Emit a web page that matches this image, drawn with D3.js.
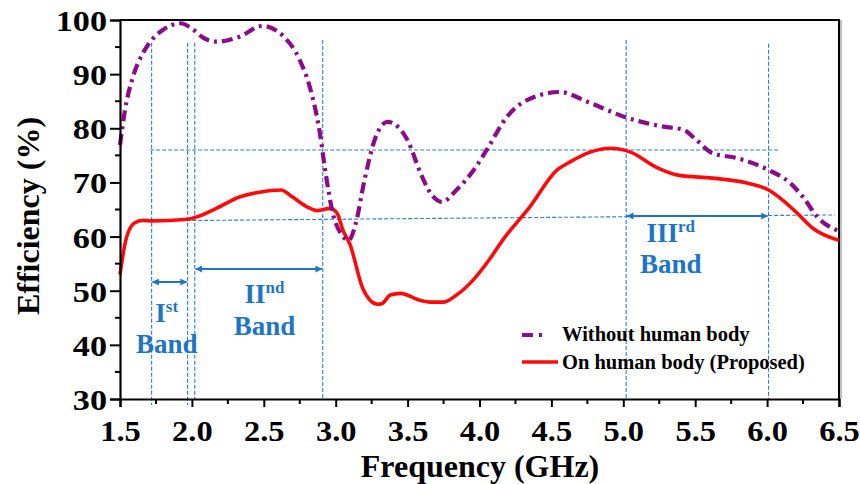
<!DOCTYPE html>
<html>
<head>
<meta charset="utf-8">
<script src="https://cdn.jsdelivr.net/npm/d3@7"></script>
<style>
  html, body { margin: 0; padding: 0; background: #fff; }
  svg { display: block; }
  svg text { font-family: "Liberation Serif", "Tinos", "Times New Roman", "Nimbus Roman", "DejaVu Serif", serif !important; font-weight: bold; }
</style>
</head>
<body>
<svg id="chart" width="860" height="484"></svg>
<script>
// ---- Data ----
const freqWithout = [1.5, 1.535, 1.59, 1.66, 1.72, 1.80, 1.92, 2.01, 2.08, 2.17, 2.33, 2.49, 2.64, 2.75, 2.82, 2.89, 2.93, 2.98, 3.04, 3.09, 3.14, 3.2, 3.27, 3.36, 3.50, 3.59, 3.66, 3.74, 3.84, 3.96, 4.05, 4.19, 4.33, 4.56, 4.75, 5.03, 5.28, 5.42, 5.51, 5.62, 5.79, 6.01, 6.16, 6.25, 6.35, 6.5];
const effWithout  = [76.9, 83.4, 89.5, 93.9, 96.3, 98.2, 99.4, 98.2, 96.7, 96.0, 96.9, 98.9, 96.9, 92.6, 87.6, 79.1, 71.7, 64.3, 60.4, 59.3, 62.5, 70.4, 77.8, 81.2, 77.8, 71.7, 68.0, 66.4, 68.6, 72.3, 76.0, 82.1, 85.2, 86.7, 84.9, 81.9, 80.3, 79.7, 77.8, 75.4, 74.5, 72.3, 69.9, 67.3, 63.6, 61.0];

const freqOn = [1.5, 1.54, 1.60, 1.66, 1.72, 1.97, 2.03, 2.17, 2.33, 2.47, 2.62, 2.70, 2.80, 2.87, 2.96, 3.01, 3.05, 3.10, 3.19, 3.29, 3.32, 3.38, 3.45, 3.59, 3.66, 3.75, 3.84, 3.96, 4.07, 4.16, 4.35, 4.54, 4.63, 4.77, 4.91, 5.05, 5.23, 5.39, 5.62, 5.86, 6.01, 6.11, 6.21, 6.32, 6.5];
const effOn  = [53.0, 59.3, 62.5, 63.0, 62.9, 63.2, 63.6, 65.2, 67.3, 68.2, 68.6, 67.3, 65.5, 64.8, 65.2, 64.3, 61.2, 58.5, 50.3, 47.5, 47.6, 49.2, 49.5, 48.2, 47.9, 47.9, 49.2, 52.1, 55.8, 59.3, 65.5, 72.3, 73.8, 75.6, 76.3, 75.6, 72.8, 71.3, 70.8, 69.9, 68.6, 66.7, 64.3, 61.5, 59.3];

const seriesNames = ["Without human body", "On human body (Proposed)"];
const xTicks = [1.5, 2.0, 2.5, 3.0, 3.5, 4.0, 4.5, 5.0, 5.5, 6.0, 6.5];
const yTicks = [30, 40, 50, 60, 70, 80, 90, 100];

// Reference (band) lines
const bandEdges = [1.72, 1.97, 2.02, 2.91, 5.02, 6.01];
const bandEdgeTops = [95.8, 95.8, 95.8, 96.3, 96.3, 95.6];
const bandEdgeBottoms = [28.9, 28.9, 30, 30, 30, 30];
const hLine1 = {x1: 1.71, y1: 76, x2: 6.09, y2: 76};
const hLine2 = {x1: 1.71, y1: 62.9, x2: 6.47, y2: 64};
const bandArrows = [
  {x1: 1.72, x2: 1.97, y: 51.6},
  {x1: 2.02, x2: 2.91, y: 54.0},
  {x1: 5.02, x2: 6.01, y: 63.8}
];
const bandLabels = [
  {roman: "I", sup: "st", cx: 1.825, yTop: 44.2, yBot: 38.5},
  {roman: "II", sup: "nd", cx: 2.505, yTop: 47.7, yBot: 41.8},
  {roman: "III", sup: "rd", cx: 5.33, yTop: 59.0, yBot: 53.3}
];

// ---- Layout ----
const svg = d3.select("#chart");
const L = 120, R = 839, T = 20, B = 399;
const x = d3.scaleLinear().domain([1.5, 6.5]).range([L, R]);
const y = d3.scaleLinear().domain([30, 100]).range([B, T]);

const blue = "#2a7bd4";
const labelBlue = "#1e74c6";
const purple = "#8a0c8a";
const red = "#ff0a0a";
const serif = "'Liberation Serif', Tinos, 'Times New Roman', 'Nimbus Roman', 'DejaVu Serif', serif";

// arrow markers
const defs = svg.append("defs");
defs.append("marker")
  .attr("id", "arr")
  .attr("viewBox", "0 0 10 10")
  .attr("refX", 9).attr("refY", 5)
  .attr("markerWidth", 4).attr("markerHeight", 3.5)
  .attr("markerUnits", "strokeWidth")
  .attr("orient", "auto-start-reverse")
  .append("path").attr("d", "M0,0 L10,5 L0,10 z").attr("fill", labelBlue);

// Frame: top and right lines
svg.append("line").attr("x1", L).attr("x2", R + 1).attr("y1", T).attr("y2", T)
  .attr("stroke", "#000").attr("stroke-width", 2);
svg.append("line").attr("x1", R + 2).attr("x2", R + 2).attr("y1", T).attr("y2", B)
  .attr("stroke", "#aaa").attr("stroke-width", 1.5);
svg.append("line").attr("x1", R).attr("x2", R).attr("y1", T).attr("y2", B)
  .attr("stroke", "#000").attr("stroke-width", 2);

// Reference dashed lines
const refG = svg.append("g").attr("stroke", blue).attr("stroke-width", 1.1).attr("stroke-dasharray", "4,2").attr("fill", "none");
bandEdges.forEach((f, i) => {
  refG.append("line").attr("x1", x(f)).attr("x2", x(f))
    .attr("y1", y(bandEdgeTops[i])).attr("y2", y(bandEdgeBottoms[i]));
});
[hLine1, hLine2].forEach(h => {
  refG.append("line").attr("x1", x(h.x1)).attr("x2", x(h.x2))
    .attr("y1", y(h.y1)).attr("y2", y(h.y2));
});

// Band arrows
bandArrows.forEach(a => {
  svg.append("line").attr("x1", x(a.x1) + 1).attr("x2", x(a.x2) - 1)
    .attr("y1", y(a.y)).attr("y2", y(a.y))
    .attr("stroke", labelBlue).attr("stroke-width", 2)
    .attr("marker-start", "url(#arr)").attr("marker-end", "url(#arr)");
});

// Band labels
bandLabels.forEach(b => {
  const t = svg.append("text").attr("x", x(b.cx)).attr("y", y(b.yTop))
    .attr("text-anchor", "middle").attr("fill", labelBlue).attr("font-size", 27).attr("font-family", serif);
  t.append("tspan").text(b.roman);
  t.append("tspan").attr("font-size", 17).attr("dy", -10).text(b.sup);
  svg.append("text").attr("x", x(b.cx)).attr("y", y(b.yBot))
    .attr("text-anchor", "middle").attr("fill", labelBlue).attr("font-size", 27).attr("font-family", serif).text("Band");
});

// Curves
const line = d3.line().x(d => x(d[0])).y(d => y(d[1])).curve(d3.curveMonotoneX);
const dataWithout = freqWithout.map((f, i) => [f, effWithout[i]]);
const dataOn = freqOn.map((f, i) => [f, effOn[i]]);

svg.append("path").datum(dataOn).attr("d", line)
  .attr("fill", "none").attr("stroke", red).attr("stroke-width", 3.6).attr("stroke-linejoin", "round");
svg.append("path").datum(dataWithout).attr("d", line)
  .attr("fill", "none").attr("stroke", purple).attr("stroke-width", 4.2)
  .attr("stroke-dasharray", "11,5,3,5");

// Axes
const xAxis = d3.axisBottom(x).tickValues(xTicks).tickFormat(d3.format(".1f")).tickSize(8).tickPadding(6);
const gx = svg.append("g").attr("transform", `translate(0,${B})`).call(xAxis);
const yAxis = d3.axisLeft(y).tickValues(yTicks).tickSize(10).tickPadding(3);
const gy = svg.append("g").attr("transform", `translate(${L},0)`).call(yAxis);
[gx, gy].forEach(g => {
  g.attr("font-family", serif);
  g.select(".domain").attr("stroke", "#000").attr("stroke-width", 2.2);
  g.selectAll(".tick line").attr("stroke", "#000").attr("stroke-width", 2);
  g.selectAll(".tick text").attr("fill", "#000").attr("font-size", 29)
    .attr("font-family", serif).attr("font-weight", "bold");
});
gx.selectAll(".tick text").attr("dy", "0.95em").attr("transform", "scale(1.12,1)");
gy.selectAll(".tick text").attr("dy", "0.36em").attr("x", 0).attr("transform", "translate(-13,0) scale(1.18,1)");

// minor ticks
const xMinor = d3.range(1.75, 6.5, 0.5);
gx.selectAll(".minor").data(xMinor).enter().append("line")
  .attr("x1", d => x(d)).attr("x2", d => x(d)).attr("y1", 0).attr("y2", 5)
  .attr("stroke", "#000").attr("stroke-width", 2);
const yMinor = d3.range(35, 100, 10);
gy.selectAll(".minor").data(yMinor).enter().append("line")
  .attr("y1", d => y(d)).attr("y2", d => y(d)).attr("x1", 0).attr("x2", -5)
  .attr("stroke", "#000").attr("stroke-width", 2);

// Axis titles
svg.append("text").attr("x", 480).attr("y", 477).attr("text-anchor", "middle")
  .attr("font-size", 32).attr("font-family", serif).attr("fill", "#000").text("Frequency (GHz)");
svg.append("text").attr("transform", "translate(39,216) rotate(-90)").attr("text-anchor", "middle")
  .attr("font-size", 32).attr("font-family", serif).attr("fill", "#000").text("Efficiency (%)");

// Legend
const lg = svg.append("g").attr("font-family", serif);
lg.append("line").attr("x1", 522).attr("x2", 545).attr("y1", 335).attr("y2", 335)
  .attr("stroke", purple).attr("stroke-width", 4).attr("stroke-dasharray", "11,6,3,20");
lg.append("line").attr("x1", 522).attr("x2", 558).attr("y1", 362).attr("y2", 362)
  .attr("stroke", red).attr("stroke-width", 3.5);
lg.append("text").attr("x", 562).attr("y", 341).attr("font-size", 20.5).attr("font-family", serif).attr("fill", "#000").text(seriesNames[0]);
lg.append("text").attr("x", 562).attr("y", 369).attr("font-size", 20.5).attr("font-family", serif).attr("fill", "#000").text(seriesNames[1]);
</script>
</body>
</html>
